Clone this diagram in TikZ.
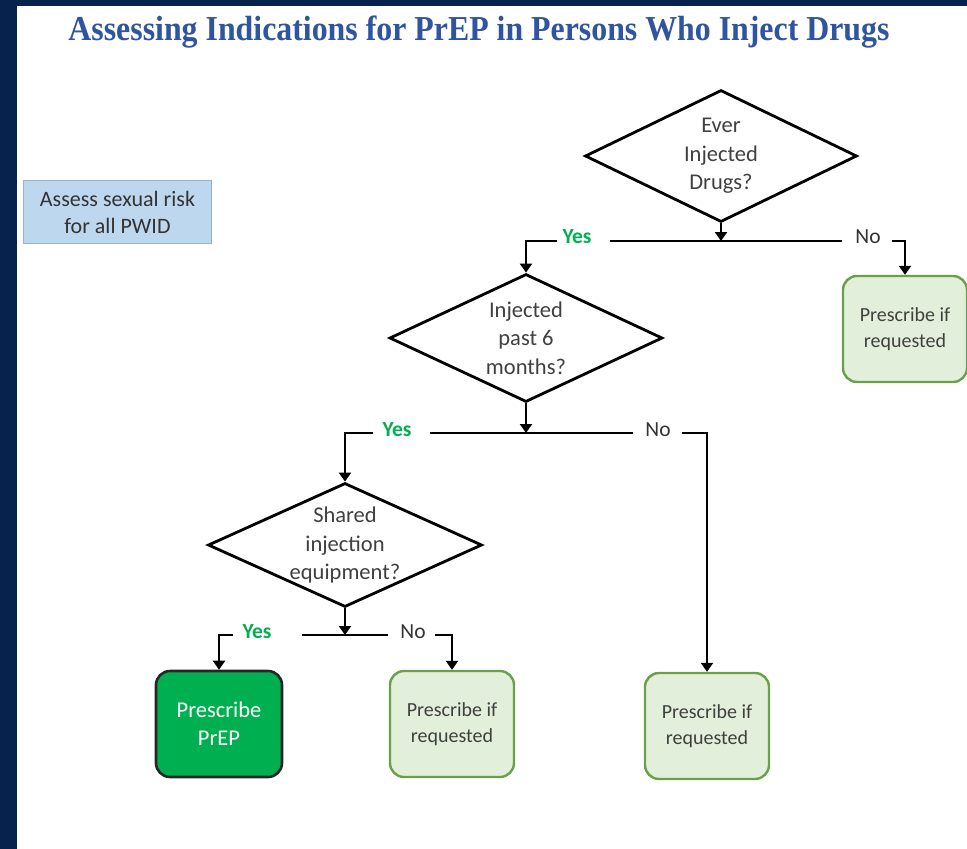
\documentclass[tikz,border=0pt]{standalone}
\usepackage{fontspec}
\setmainfont{Carlito}
\newfontfamily\titlefont{Liberation Serif}
\usetikzlibrary{shapes.geometric,arrows.meta}
\definecolor{navy}{RGB}{8,34,78}
\definecolor{titleblue}{RGB}{47,84,160}
\definecolor{textgray}{RGB}{64,64,64}
\definecolor{lightgreen}{RGB}{226,239,218}
\definecolor{boxgreen}{RGB}{106,160,72}
\definecolor{prepgreen}{RGB}{0,176,80}
\definecolor{yesgreen}{RGB}{0,176,80}
\definecolor{assessblue}{RGB}{189,215,238}
\definecolor{assessborder}{RGB}{150,175,210}
\tikzset{
  decision/.style={diamond, draw=black, line width=2.8pt, fill=white, inner sep=0pt},
  dtext/.style={align=center, text=textgray, inner sep=0pt, font=\fontsize{22.5}{28.5}\selectfont},
  optbox/.style={rectangle, rounded corners=14pt, draw=boxgreen, line width=2.4pt, fill=lightgreen,
    minimum width=124pt, minimum height=106pt, align=center, text=textgray, inner sep=0pt,
    font=\fontsize{20}{25.5}\selectfont},
  prepbox/.style={rectangle, rounded corners=14pt, draw=black!85, line width=2.6pt, fill=prepgreen,
    minimum width=126pt, minimum height=106pt, align=center, text=white, inner sep=0pt,
    font=\fontsize{22.5}{28}\selectfont},
  assessbox/.style={rectangle, draw=assessborder, line width=1.2pt, fill=assessblue,
    minimum width=188pt, minimum height=63pt, align=center, text=black!80, inner sep=0pt,
    font=\fontsize{22}{27}\selectfont},
  yeslabel/.style={inner sep=0pt, text=yesgreen, font=\fontsize{21.5}{25}\selectfont\bfseries},
  nolabel/.style={inner sep=0pt, text=black!80, font=\fontsize{21.5}{25}\selectfont},
  conn/.style={line width=2.4pt, black},
  arr/.style={conn, -{Triangle[width=12pt,length=9pt]}}
}
\begin{document}
\begin{tikzpicture}[x=1pt,y=-1pt]
\fill[navy] (0,0) rectangle (967,849);
\fill[white] (17,6) rectangle (967,849);
\useasboundingbox (0,0) rectangle (967,849);

\node[text=titleblue, inner sep=0pt] (title) at (479,32)
  {\scalebox{0.91}[1]{\titlefont\bfseries\fontsize{35}{40}\selectfont Assessing Indications for PrEP in Persons Who Inject Drugs}};

\node[assessbox] (assess) at (117.5,212) {Assess sexual risk\\for all PWID};

% decisions
\node[decision, minimum width=272pt, minimum height=132pt] (d1) at (721,156) {};
\node[dtext] (d1t) at (d1.center) {Ever\\Injected\\Drugs?};
\node[decision, minimum width=273pt, minimum height=128pt] (d2) at (526,338) {};
\node[dtext] (d2t) at (d2.center) {Injected\\past 6\\months?};
\node[decision, minimum width=274pt, minimum height=124pt] (d3) at (345,545) {};
\node[dtext] (d3t) at (d3.center) {Shared\\injection\\equipment?};

% outcomes
\node[optbox] (r1) at (905,329) {Prescribe if\\requested};
\node[optbox] (r2) at (707,726) {Prescribe if\\requested};
\node[optbox] (m) at (452,724) {Prescribe if\\requested};
\node[prepbox] (p) at (219,724) {Prescribe\\PrEP};

% labels
\node[yeslabel] (yes1) at (577,237) {Yes};
\node[nolabel] (no1) at (868,237) {No};
\node[yeslabel] (yes2) at (397,430) {Yes};
\node[nolabel] (no2) at (658,430) {No};
\node[yeslabel] (yes3) at (257,632) {Yes};
\node[nolabel] (no3) at (413,632) {No};

% junction 1
\coordinate (j1) at (721,241);
\coordinate (j1l) at (557,241);
\coordinate (j1a) at (610,241);
\coordinate (j1b) at (842,241);
\coordinate (j1r) at (892,241);
\draw[arr] (d1.south) -- (j1);
\draw[arr] (j1l) -| (d2.north);
\draw[conn] (j1a) -- (j1b);
\draw[arr] (j1r) -| (r1.north);

% junction 2
\coordinate (j2) at (526,433);
\coordinate (j2l) at (373,433);
\coordinate (j2a) at (430,433);
\coordinate (j2b) at (633,433);
\coordinate (j2r) at (682,433);
\draw[arr] (d2.south) -- (j2);
\draw[arr] (j2l) -| (d3.north);
\draw[conn] (j2a) -- (j2b);
\draw[arr] (j2r) -| (r2.north);

% junction 3
\coordinate (j3) at (345,635);
\coordinate (j3l) at (233,635);
\coordinate (j3a) at (302,635);
\coordinate (j3b) at (388,635);
\coordinate (j3r) at (435,635);
\draw[arr] (d3.south) -- (j3);
\draw[arr] (j3l) -| (p.north);
\draw[conn] (j3a) -- (j3b);
\draw[arr] (j3r) -| (m.north);
\end{tikzpicture}
\end{document}
